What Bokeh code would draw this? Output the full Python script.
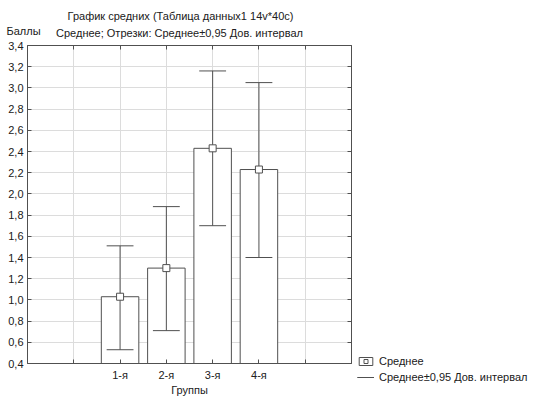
from bokeh.plotting import figure
from bokeh.models import (Range1d, FixedTicker, CustomJSTickFormatter, LinearAxis, Grid,
                          Label, Legend, LegendItem, ColumnDataSource)
from bokeh.embed import file_html
from bokeh.resources import INLINE

# ---- data ----
categories = ["1-я", "2-я", "3-я", "4-я"]
means = [1.03, 1.30, 2.43, 2.23]
ci_low = [0.53, 0.71, 1.70, 1.40]
ci_high = [1.51, 1.88, 3.16, 3.05]
y_ticks = [0.4, 0.6, 0.8, 1.0, 1.2, 1.4, 1.6, 1.8, 2.0, 2.2, 2.4, 2.6, 2.8, 3.0, 3.2, 3.4]
x_ticks = [-1, 0, 1, 2, 3, 4, 5, 6]
title_1 = "График средних (Таблица данных1 14v*40c)"
title_2 = "Среднее; Отрезки: Среднее±0,95 Дов. интервал"
y_title = "Баллы"
x_title = "Группы"
legend_mean = "Среднее"
legend_ci = "Среднее±0,95 Дов. интервал"

# ---- layout (pixels) ----
W, H = 533, 400
BOX_L, BOX_T, BOX_W, BOX_H = 27, 45, 324, 318
X0, X1 = x_ticks[0], x_ticks[-1]
Y0, Y1 = y_ticks[0], y_ticks[-1]
ppx = BOX_W / (X1 - X0)
ppy = BOX_H / (Y1 - Y0)
xs_start = X0 - BOX_L / ppx
ys_end = Y1 + BOX_T / ppy

def dx(px):
    return xs_start + px / ppx

def dy(py):
    return ys_end - py / ppy

FONT = "Liberation Sans"
FS = "11px"
DARK = "#505050"
TXT = "#202020"
GRID = "#dcdcdc"

xs = [i + 1 for i in range(len(categories))]
bar_w = 0.81
cap_half = 0.29
src = ColumnDataSource(dict(
    x=xs, top=means, low=ci_low, high=ci_high,
    cl=[x - cap_half for x in xs], cr=[x + cap_half for x in xs],
))

p = figure(width=W, height=H, output_backend="svg", toolbar_location=None,
           x_range=Range1d(xs_start, xs_start + W / ppx),
           y_range=Range1d(ys_end - H / ppy, ys_end),
           min_border=0, x_axis_location=None, y_axis_location=None)
p.outline_line_color = None
p.background_fill_color = "white"
p.border_fill_color = "white"
p.grid.visible = False

yt = FixedTicker(ticks=y_ticks)
xt = FixedTicker(ticks=x_ticks)
yfmt = CustomJSTickFormatter(code="return tick.toFixed(1).replace('.', ',');")
xfmt = CustomJSTickFormatter(args=dict(labels=categories),
                             code="const i = Math.round(tick) - 1; return (i >= 0 && i < labels.length) ? labels[i] : '';")
blank = CustomJSTickFormatter(code="return '';")

# grid
if "cross_bounds" in Grid.properties():
    p.add_layout(Grid(dimension=0, ticker=xt, bounds=(X0, X1), cross_bounds=(Y0, Y1),
                      grid_line_color=GRID))
    p.add_layout(Grid(dimension=1, ticker=yt, bounds=(Y0, Y1), cross_bounds=(X0, X1),
                      grid_line_color=GRID))
else:
    p.segment(x0=x_ticks, y0=[Y0] * len(x_ticks), x1=x_ticks, y1=[Y1] * len(x_ticks),
              line_color=GRID, line_width=1)
    p.segment(x0=[X0] * len(y_ticks), y0=y_ticks, x1=[X1] * len(y_ticks), y1=y_ticks,
              line_color=GRID, line_width=1)

def style(ax):
    ax.axis_line_color = DARK
    ax.major_tick_line_color = DARK
    ax.major_tick_in = 4
    ax.major_tick_out = 0
    ax.minor_tick_line_color = None
    ax.major_label_text_font = FONT
    ax.major_label_text_font_size = FS
    ax.major_label_text_color = TXT
    ax.axis_label_text_font = FONT
    ax.axis_label_text_font_size = FS
    ax.axis_label_text_font_style = "normal"
    ax.axis_label_text_color = TXT

yl = LinearAxis(ticker=yt, formatter=yfmt, fixed_location=X0, bounds=(Y0, Y1))
style(yl); yl.major_label_standoff = 4
p.add_layout(yl, "left")
xb = LinearAxis(ticker=xt, formatter=xfmt, fixed_location=Y0, bounds=(X0, X1), axis_label=x_title)
style(xb); xb.major_label_standoff = 5; xb.axis_label_standoff = 0
p.add_layout(xb, "below")
yr = LinearAxis(ticker=yt, formatter=blank, fixed_location=X1, bounds=(Y0, Y1))
style(yr); yr.major_label_text_font_size = "0px"
p.add_layout(yr, "right")
xa = LinearAxis(ticker=xt, formatter=blank, fixed_location=Y1, bounds=(X0, X1))
style(xa); xa.major_label_text_font_size = "0px"
p.add_layout(xa, "above")

bars = p.vbar(x="x", top="top", bottom=Y0, width=bar_w, source=src,
              fill_color="white", line_color=DARK, line_width=1)
vseg = p.segment(x0="x", y0="low", x1="x", y1="high", source=src, line_color=DARK, line_width=1)
cap_hi = p.segment(x0="cl", y0="high", x1="cr", y1="high", source=src, line_color=DARK, line_width=1)
cap_lo = p.segment(x0="cl", y0="low", x1="cr", y1="low", source=src, line_color=DARK, line_width=1)
marks = p.scatter(x="x", y="top", source=src, marker="square", size=7,
                  fill_color="white", line_color=DARK, line_width=1)

legend = Legend(items=[LegendItem(label=legend_mean, renderers=[bars, marks]),
                       LegendItem(label=legend_ci, renderers=[vseg, cap_lo])],
                location=(357, 15), padding=0, margin=0, spacing=0,
                label_height=16, glyph_height=10, glyph_width=17, label_standoff=5,
                border_line_alpha=0, background_fill_alpha=0,
                label_text_font=FONT, label_text_font_size=FS, label_text_color=TXT)
p.add_layout(legend, "center")

def lab(text, px, py, align="center"):
    p.add_layout(Label(x=dx(px), y=dy(py), text=text,
                       text_font=FONT, text_font_size=FS, text_color=TXT,
                       text_align=align, text_baseline="middle"))

lab(title_1, 180, 15)
lab(title_2, 179, 32)
lab(y_title, 6, 30, "left")

open("out.html", "w").write(file_html(p, INLINE))
